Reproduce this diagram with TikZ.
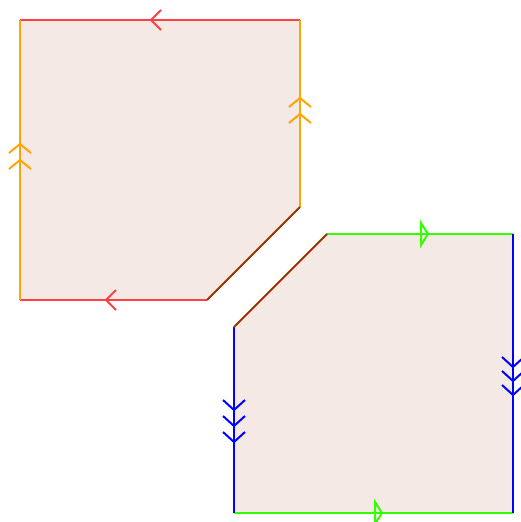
\documentclass[tikz,border=0pt]{standalone}
\definecolor{fillc}{RGB}{244,233,229}
\definecolor{redc}{RGB}{255,64,64}
\definecolor{orangec}{RGB}{255,165,0}
\definecolor{greenc}{RGB}{51,255,0}
\definecolor{bluec}{RGB}{0,0,255}
\definecolor{brownc}{RGB}{153,51,0}
\begin{document}
\begin{tikzpicture}[x=1pt,y=-1pt,line width=2pt,
  edge/.style={line cap=butt},
  mk/.style={line width=2pt, line join=miter}]
\useasboundingbox (0,0) rectangle (521,522);
% shape 1
\fill[fillc] (20,20) -- (300,20) -- (300,207) -- (207,300) -- (20,300) -- cycle;
\draw[redc] (20,20) -- (300,20);
\draw[redc] (20,300) -- (207,300);
\draw[orangec] (20,20) -- (20,300);
\draw[orangec] (300,20) -- (300,207);
\draw[brownc] (300,207) -- (207,300);
\draw[redc,mk] (161,10) -- (151,20) -- (161,30);
\draw[redc,mk] (116,290) -- (106,300) -- (116,310);
\draw[orangec,mk] (9,153) -- (20,144) -- (31,153);
\draw[orangec,mk] (9,169) -- (20,160) -- (31,169);
\draw[orangec,mk] (289,107) -- (300,98) -- (311,107);
\draw[orangec,mk] (289,123) -- (300,114) -- (311,123);
% shape 2
\fill[fillc] (327,234) -- (513,234) -- (513,513) -- (234,513) -- (234,327) -- cycle;
\draw[greenc] (327,234) -- (513,234);
\draw[greenc] (234,513) -- (513,513);
\draw[bluec] (513,234) -- (513,513);
\draw[bluec] (234,327) -- (234,513);
\draw[brownc] (327,234) -- (234,327);
\draw[greenc,mk] (421,223) -- (428,234) -- (421,245) -- cycle;
\draw[greenc,mk] (375,502) -- (382,513) -- (375,524) -- cycle;
\draw[bluec,mk] (502,357) -- (513,367) -- (524,357);
\draw[bluec,mk] (502,371) -- (513,381) -- (524,371);
\draw[bluec,mk] (502,385) -- (513,395) -- (524,385);
\draw[bluec,mk] (223,400) -- (234,410) -- (245,400);
\draw[bluec,mk] (223,416) -- (234,426) -- (245,416);
\draw[bluec,mk] (223,432) -- (234,442) -- (245,432);
\end{tikzpicture}
\end{document}
